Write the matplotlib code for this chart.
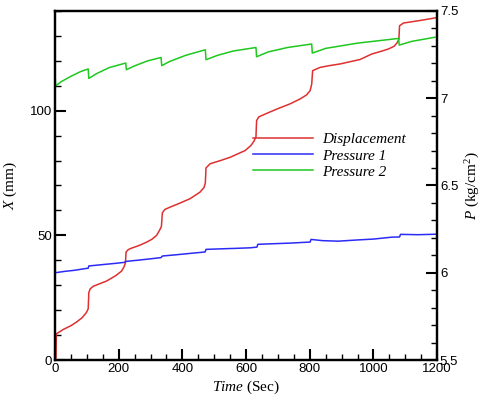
import matplotlib
matplotlib.use("Agg")
import matplotlib.pyplot as plt
from matplotlib.ticker import MultipleLocator, FormatStrFormatter

plt.rcParams["mathtext.fontset"] = "custom"
plt.rcParams["mathtext.rm"] = "Liberation Serif"
plt.rcParams["mathtext.it"] = "Liberation Serif:italic"

# Displacement X (mm) vs time (s)
disp_t = [0, 3, 4, 26, 50, 68, 85, 98, 104, 106, 110, 120, 140, 162, 190, 209, 217, 221,
          223, 230, 241, 265, 288, 305, 319, 328, 334, 337, 345, 361, 390, 424, 455, 468,
          472, 474, 487, 520, 550, 597, 615, 625, 631, 633, 640, 665, 700, 738, 770, 790,
          801, 806, 809, 832, 860, 895, 958, 995, 1030, 1047, 1065, 1075, 1080, 1082, 1094,
          1150, 1200]
disp_x = [0, 1, 10.5, 12.3, 13.8, 15.3, 17, 19, 20.5, 27, 28.5, 29.6, 30.6, 31.7, 33.8, 35.7,
          37.5, 39, 43.3, 44.3, 44.9, 46, 47.3, 48.5, 50, 52, 53.5, 59, 60.4, 61.3, 62.8, 64.7,
          67.3, 69.2, 71, 77, 78.7, 80, 81.3, 84, 86, 87.8, 89.5, 96, 97.5, 98.9, 100.8, 102.7,
          104.7, 106.3, 108, 110.5, 116, 117.3, 118, 118.7, 120.5, 122.7, 124, 124.7, 125.8,
          127.3, 128.7, 134, 135.1, 136.2, 137.3]

# Pressure 1 (kg/cm2)
p1_t = [0, 30, 60, 95, 104, 106, 150, 190, 219, 222, 260, 300, 333, 337, 380, 430, 471, 474,
        520, 570, 613, 634, 637, 680, 740, 801, 804, 840, 889, 950, 1000, 1058, 1082, 1085,
        1140, 1200]
p1_v = [6.0, 6.008, 6.014, 6.024, 6.026, 6.039, 6.047, 6.054, 6.060, 6.065, 6.072, 6.080,
        6.087, 6.096, 6.103, 6.112, 6.119, 6.134, 6.137, 6.140, 6.143, 6.147, 6.163, 6.166,
        6.170, 6.176, 6.191, 6.184, 6.181, 6.188, 6.193, 6.204, 6.205, 6.220, 6.218, 6.221]

# Pressure 2 (kg/cm2)
p2_t = [0, 2, 20, 50, 80, 104, 106, 130, 170, 222, 224, 250, 290, 333, 335, 360, 410, 472,
        474, 510, 560, 631, 633, 670, 730, 806, 808, 850, 950, 1079, 1081, 1120, 1200]
p2_v = [7.133, 7.071, 7.095, 7.125, 7.152, 7.167, 7.113, 7.140, 7.175, 7.201, 7.163, 7.185,
        7.213, 7.233, 7.186, 7.210, 7.245, 7.277, 7.220, 7.245, 7.270, 7.290, 7.237, 7.265,
        7.290, 7.310, 7.258, 7.285, 7.315, 7.342, 7.304, 7.325, 7.351]

fig = plt.figure(figsize=(4.83, 4.01), dpi=100)
ax = fig.add_axes([0.114, 0.102, 0.791, 0.871])
ax2 = ax.twinx()

l1, = ax.plot(disp_t, disp_x, color="#de3030", lw=1.1, label="Displacement")
l2, = ax2.plot(p1_t, p1_v, color="#2b2bf5", lw=1.1, label="Pressure 1")
l3, = ax2.plot(p2_t, p2_v, color="#1ec81e", lw=1.1, label="Pressure 2")

ax.set_xlim(0, 1200)
ax.set_ylim(0, 140)
ax2.set_ylim(5.5, 7.5)

ax.xaxis.set_major_locator(MultipleLocator(200))
ax.xaxis.set_minor_locator(MultipleLocator(50))
ax.yaxis.set_major_locator(MultipleLocator(50))
ax.yaxis.set_minor_locator(MultipleLocator(10))
ax2.yaxis.set_major_locator(MultipleLocator(0.5))
ax2.yaxis.set_minor_locator(MultipleLocator(0.1))
ax2.yaxis.set_major_formatter(FormatStrFormatter("%g"))

for a in (ax, ax2):
    a.tick_params(which="major", direction="in", length=8, width=1.5, labelsize=9.5, pad=2)
    a.tick_params(which="minor", direction="in", length=4.5, width=1)
    for lab in a.get_xticklabels() + a.get_yticklabels():
        lab.set_fontfamily("Liberation Sans")
    for s in a.spines.values():
        s.set_linewidth(1.6)
ax.tick_params(axis="x", which="both", top=False)
ax.tick_params(axis="y", which="both", right=False)
ax2.tick_params(axis="y", which="both", left=False)

ax.set_xlabel(r"$Time$ (Sec)", fontsize=11, family="Liberation Serif", labelpad=3)
ax.set_ylabel(r"$X$ (mm)", fontsize=11, family="Liberation Serif", labelpad=8)
ax2.set_ylabel(r"$P$ (kg/cm$^2$)", fontsize=11, family="Liberation Serif", labelpad=4)

leg = ax2.legend([l1, l2, l3], ["Displacement", "Pressure 1", "Pressure 2"],
                 loc="upper left", bbox_to_anchor=(0.518, 0.651), frameon=False,
                 prop={"family": "Liberation Serif", "style": "italic", "size": 11},
                 handlelength=3.9, handletextpad=0.6, labelspacing=0.16,
                 borderpad=0, borderaxespad=0)

fig.savefig("out.png", dpi=100)
